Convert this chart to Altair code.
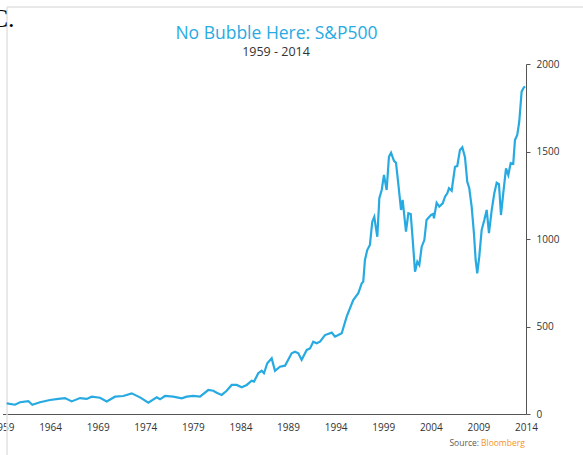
import altair as alt
import pandas as pd

# ---- data ----
years = [1959.44, 1960.31, 1960.84, 1961.71, 1962.13, 1962.94, 1963.99, 1964.86, 1965.57, 1966.27,
         1967.14, 1967.85, 1968.37, 1969.24, 1969.95, 1970.82, 1971.69, 1972.57, 1973.45, 1974.32,
         1975.20, 1975.55, 1976.07, 1976.94, 1977.83, 1978.35, 1979.05, 1979.75, 1980.62, 1981.15,
         1981.50, 1982.03, 1982.55, 1983.08, 1983.61, 1984.13, 1984.66, 1985.18, 1985.42, 1985.87,
         1986.23, 1986.47, 1986.82, 1987.28, 1987.63, 1988.15, 1988.68, 1989.38, 1989.73, 1990.08,
         1990.43, 1990.96, 1991.31, 1991.65, 1992.01, 1992.36, 1992.88, 1993.59, 1993.93, 1994.28,
         1994.64, 1995.16, 1995.50, 1995.85, 1996.38, 1996.74, 1996.90, 1997.08, 1997.32, 1997.60,
         1997.85, 1998.06, 1998.24, 1998.38, 1998.59, 1998.84, 1999.08, 1999.36, 1999.60, 1999.82,
         2000.13, 2000.34, 2000.58, 2000.87, 2001.04, 2001.39, 2001.64, 2001.89, 2002.10, 2002.34,
         2002.58, 2002.79, 2003.04, 2003.32, 2003.55, 2004.02, 2004.26, 2004.33, 2004.61, 2004.89,
         2005.25, 2005.49, 2005.73, 2005.91, 2006.19, 2006.54, 2006.78, 2007.06, 2007.31, 2007.59,
         2007.83, 2008.04, 2008.29, 2008.53, 2008.71, 2008.88, 2009.09, 2009.34, 2009.62, 2009.87,
         2010.11, 2010.40, 2010.67, 2010.92, 2011.16, 2011.37, 2011.61, 2011.90, 2012.14, 2012.39,
         2012.66, 2012.84, 2013.08, 2013.29, 2013.54, 2013.78, 2013.92]
values = [61, 53, 67, 74, 53, 67, 80, 86, 91, 72,
          91, 86, 99, 93, 72, 99, 103, 118, 95, 65,
          95, 84, 103, 99, 90, 99, 104, 100, 137, 133,
          122, 109, 133, 166, 166, 153, 166, 190, 185, 233,
          247, 233, 290, 318, 247, 270, 276, 347, 356, 347,
          309, 366, 375, 413, 404, 413, 451, 465, 442, 451,
          461, 556, 604, 651, 690, 747, 756, 880, 937, 966,
          1099, 1127, 1061, 1013, 1233, 1280, 1366, 1280, 1470, 1493,
          1447, 1436, 1318, 1166, 1223, 1042, 1147, 1143, 994, 813,
          870, 851, 956, 994, 1109, 1137, 1143, 1118, 1207, 1185,
          1204, 1242, 1261, 1290, 1276, 1413, 1417, 1509, 1524, 1467,
          1327, 1290, 1185, 1033, 880, 804, 899, 1051, 1109, 1166,
          1033, 1166, 1261, 1322, 1314, 1137, 1261, 1404, 1366, 1433,
          1429, 1566, 1594, 1670, 1842, 1867, 1870]

x_ticks = [1959, 1964, 1969, 1974, 1979, 1984, 1989, 1994, 1999, 2004, 2009, 2014]
y_ticks = [0, 500, 1000, 1500, 2000]
title_text = "No Bubble Here: S&P500"
subtitle_text = "1959 - 2014"
source_label = "Source:"
source_name = "Bloomberg"
corner_label = "C."

df = pd.DataFrame({"year": years, "value": values})

W, H = 523.5, 350
FONT = "Open Sans"

line = alt.Chart(df).mark_line(color="#27AAE1", strokeWidth=2.2).encode(
    x=alt.X("year:Q",
            scale=alt.Scale(domain=[1959, 2014], nice=False, zero=False),
            axis=alt.Axis(values=x_ticks, format="d", title=None, grid=False, ticks=False,
                          domainColor="#555555", domainWidth=1, labelColor="#333333",
                          labelFont=FONT, labelFontSize=10, labelPadding=8,
                          labelFlush=False, labelOverlap=False)),
    y=alt.Y("value:Q",
            scale=alt.Scale(domain=[0, 2000], nice=False),
            axis=alt.Axis(orient="right", values=y_ticks, format="d", title=None, grid=False,
                          tickSize=4, tickColor="#555555", domainColor="#555555",
                          labelColor="#333333", labelFont=FONT, labelFontSize=10,
                          labelPadding=6, labelFlush=False)),
)

def txt(text, x, y, size, color, align="center", font=FONT, weight="normal"):
    return alt.Chart(pd.DataFrame({"t": [text]})).mark_text(
        align=align, baseline="alphabetic", fontSize=size, color=color, font=font,
        fontWeight=weight
    ).encode(text="t:N", x=alt.value(x), y=alt.value(y))

title = txt(title_text, 274, -25.5, 17.5, "#29ABE2")
subtitle = txt(subtitle_text, 273.5, -8.5, 12.5, "#333333")
src1 = txt(source_label, 476.5, 382, 8.5, "#58595B", align="right")
src2 = txt(source_name, 478.5, 382, 8.5, "#F7941D", align="left")
corner = txt(corner_label, 12, -37, 26, "#000000", align="right", font="Liberation Serif")

frame_v = alt.Chart(pd.DataFrame({"a": [0]})).mark_rule(color="#E2E2E2", strokeWidth=1.5).encode(
    x=alt.value(4.5), y=alt.value(-57), y2=alt.value(400))
frame_h = alt.Chart(pd.DataFrame({"a": [0]})).mark_rule(color="#E2E2E2", strokeWidth=1.5).encode(
    x=alt.value(4.5), x2=alt.value(590), y=alt.value(-57))

chart = alt.layer(frame_v, frame_h, line, title, subtitle, src1, src2, corner).properties(
    width=W, height=H,
    autosize=alt.AutoSizeParams(type="none"),
    padding={"left": 2.5, "top": 64, "right": 57, "bottom": 41},
    background="white",
).configure_view(stroke=None)

chart.save("out.html", embed_options={"renderer": "svg", "actions": False})
